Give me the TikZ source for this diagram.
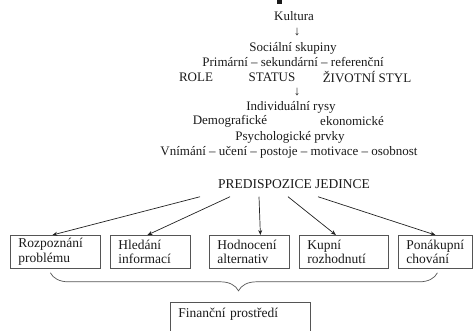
\documentclass[tikz,border=0pt]{standalone}
\usepackage{fontspec}
\setmainfont{Liberation Serif}
\usetikzlibrary{arrows.meta, positioning, decorations.pathreplacing}
\definecolor{txtcol}{HTML}{1A1A1A}
\definecolor{boxline}{HTML}{555555}
\definecolor{arrline}{HTML}{222222}
\tikzset{
  txt/.style   = {inner sep=0pt, text=txtcol, font=\fontsize{13}{14}\selectfont},
  stagebox/.style = {rectangle, draw=boxline, line width=0.8pt, align=left, anchor=north west,
                  minimum height=33pt, inner xsep=8pt, inner ysep=2pt, text=txtcol,
                  font=\fontsize{13.5}{14.5}\selectfont},
  flow/.style  = {-{Stealth[length=5pt, width=4pt]}, line width=0.7pt, draw=arrline},
  bracelin/.style = {decorate, decoration={brace, amplitude=18pt, aspect=0.514},
                  line width=0.7pt, draw=boxline},
}
\begin{document}
\begin{tikzpicture}[x=1pt, y=-1pt]
  \clip (0,0) rectangle (476,330);
  \fill[txtcol] (277,0) rectangle (282,4);
  % influences, one line each
  \node[txt] (kult)   at (294,16)  {Kultura};
  \node[txt] (arr1)   at (297,32)  {↓};
  \node[txt] (soc)    at (293,48)  {Sociální skupiny};
  \node[txt] (prim)   at (293,62)  {Primární – sekundární – referenční};
  \node[txt] (role)   at (196,77)  {ROLE};
  \node[txt] (status) at (272,77)  {STATUS};
  \node[txt] (styl)   at (367,77)  {ŽIVOTNÍ STYL};
  \node[txt] (arr2)   at (297,92)  {↓};
  \node[txt] (indiv)  at (291,107) {Individuální rysy};
  \node[txt] (demo)   at (230,121) {Demografické};
  \node[txt] (ekon)   at (352,121) {ekonomické};
  \node[txt] (psych)  at (290,137) {Psychologické prvky};
  \node[txt] (vnim)   at (289,152) {Vnímání – učení – postoje – motivace – osobnost};
  \node[txt, font=\fontsize{13.5}{14.5}\selectfont] (pred) at (294,184) {PREDISPOZICE JEDINCE};
  % stages of the decision
  \node[stagebox, minimum width=90pt, text width=74pt] (rozp)  at (10,235)  {Rozpoznání\\problému};
  \node[stagebox, minimum width=80pt, text width=64pt] (hled)  at (110,235) {Hledání\\informací};
  \node[stagebox, minimum width=80pt, text width=64pt] (hodn)  at (209,235) {Hodnocení\\alternativ};
  \node[stagebox, minimum width=89pt, text width=73pt] (kupn)  at (299,235) {Kupní\\rozhodnutí};
  \node[stagebox, minimum width=74pt, text width=58pt] (ponak) at (398,235) {Ponákupní\\chování};
  \foreach \s/\b/\e in {-94/rozp/-3, -64/hled/-3, -35/hodn/11, -6/kupn/-8, 24/ponak/0}{\draw[flow] ([xshift=\s pt, yshift=-8pt]pred.south) -- ([xshift=\e pt]\b.north);}
  \draw[bracelin] ([xshift=2pt, yshift=-4pt]ponak.south) -- ([xshift=-5pt, yshift=-4pt]rozp.south);
  \node[stagebox, minimum width=140pt, text width=124pt, minimum height=0pt, inner ysep=3pt,
        text height=12pt, text depth=25pt] (fin) at (170,302) {Finanční prostředí};
\end{tikzpicture}
\end{document}
